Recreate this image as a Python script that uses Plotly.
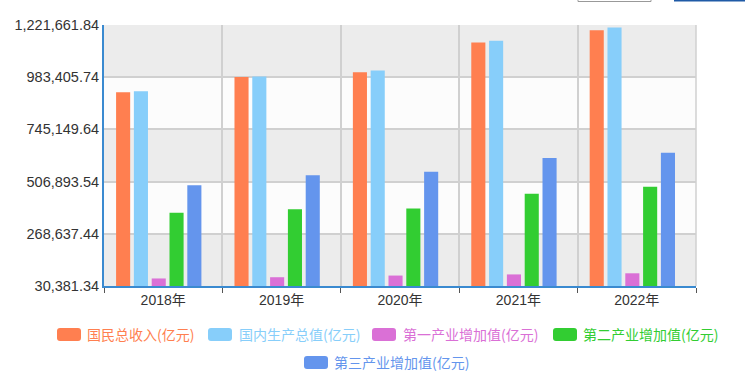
import plotly.graph_objects as go

years = ["2018年", "2019年", "2020年", "2021年", "2022年"]
series_names = ["国民总收入(亿元)", "国内生产总值(亿元)", "第一产业增加值(亿元)", "第二产业增加值(亿元)", "第三产业增加值(亿元)"]
gni = [915243.5, 983751.2, 1005451.3, 1141230.8, 1197250.4]
gdp = [919281.1, 986515.2, 1013567.0, 1149237.0, 1210207.2]
primary = [64745.2, 70473.6, 78030.9, 83216.5, 88345.1]
secondary = [364835.2, 380670.6, 383562.4, 451544.1, 483164.5]
tertiary = [489700.8, 535371.0, 551973.7, 614476.4, 638697.6]
ytick_vals = [30381.34, 268637.44, 506893.54, 745149.64, 983405.74, 1221661.84]
ytick_text = ["30,381.34", "268,637.44", "506,893.54", "745,149.64", "983,405.74", "1,221,661.84"]

colors = ["#ff7f50", "#87cefa", "#da70d6", "#32cd32", "#6495ed"]
all_series = [gni, gdp, primary, secondary, tertiary]

W, H = 750, 383
L, R, T, B = 104, 54, 25, 97
pw, ph = W - L - R, H - T - B

# legend layout in pixels: icon left edge, row centre y, text start x
legend_icon_left = [57, 208, 372, 553, 304]
legend_row_y = [334.5, 334.5, 334.5, 334.5, 362.5]
legend_text_x = [87, 239, 403, 583, 334]
legend_keys = ["legend", "legend2", "legend3", "legend4", "legend5"]

fig = go.Figure()
slot = 0.1504
bw = 0.119
start = -0.398
for i, (name, vals, c) in enumerate(zip(series_names, all_series, colors)):
    fig.add_trace(go.Bar(
        x=years, y=vals,
        name=f"<span style='color:{c}'>{name}</span>",
        marker=dict(color=c, line=dict(width=0)),
        width=bw, offset=start + i * slot,
        legend=legend_keys[i],
        hovertemplate="%{x}<br>" + name + ": %{y:,.1f}<extra></extra>",
    ))

def px_x(p):
    return (p - L) / pw

def px_y(p):
    return (H - B - p) / ph

shapes = []
for k in range(len(ytick_vals) - 1):
    fill = "#ececec" if k % 2 == 0 else "#fcfcfc"
    shapes.append(dict(type="rect", xref="paper", yref="y", x0=0, x1=1,
                       y0=ytick_vals[k], y1=ytick_vals[k + 1],
                       fillcolor=fill, line=dict(width=0), layer="below"))
shapes.append(dict(type="line", xref="paper", yref="paper", x0=1, x1=1, y0=0, y1=1,
                   line=dict(color="#d0d0d0", width=1.5), layer="below"))

shapes.append(dict(type="rect", xref="paper", yref="paper",
                   x0=px_x(578), x1=px_x(651), y0=px_y(1.5), y1=px_y(-10),
                   line=dict(color="#999999", width=1), fillcolor="rgba(0,0,0,0)"))
shapes.append(dict(type="rect", xref="paper", yref="paper",
                   x0=px_x(674), x1=px_x(745), y0=px_y(1.5), y1=px_y(-10),
                   line=dict(width=0), fillcolor="#1f5aa6"))

def rounded_rect_path(x0, y0, w, h, r):
    x1, y1 = x0 + w, y0 + h
    pts = [
        ("M", x0 + r, y0), ("L", x1 - r, y0), ("Q", x1, y0, x1, y0 + r),
        ("L", x1, y1 - r), ("Q", x1, y1, x1 - r, y1), ("L", x0 + r, y1),
        ("Q", x0, y1, x0, y1 - r), ("L", x0, y0 + r), ("Q", x0, y0, x0 + r, y0),
    ]
    out = []
    for p in pts:
        cmd = p[0]
        coords = p[1:]
        s = []
        for j in range(0, len(coords), 2):
            s.append(f"{px_x(coords[j]):.5f},{px_y(coords[j + 1]):.5f}")
        out.append(cmd + " ".join(s))
    return " ".join(out) + " Z"

# larger rounded legend swatches
for xl, yc, c in zip(legend_icon_left, legend_row_y, colors):
    shapes.append(dict(type="path", xref="paper", yref="paper",
                       path=rounded_rect_path(xl, yc - 6.5, 24, 13, 3),
                       fillcolor=c, line=dict(width=0)))

font_family = "Liberation Sans, Arial, Noto Sans CJK SC, sans-serif"

layout_legends = {}
for key, tx, cy in zip(legend_keys, legend_text_x, legend_row_y):
    layout_legends[key] = dict(
        orientation="h", xref="container", yref="container",
        x=(tx - 40) / W, xanchor="left", y=1 - cy / H, yanchor="middle",
        font=dict(size=14, family="Noto Sans CJK SC, sans-serif"),
        bgcolor="rgba(0,0,0,0)", borderwidth=0,
    )

fig.update_layout(
    width=W, height=H,
    margin=dict(l=L, r=R, t=T, b=B, autoexpand=False),
    paper_bgcolor="white", plot_bgcolor="rgba(0,0,0,0)",
    barmode="overlay",
    font=dict(family=font_family, size=13, color="#333333"),
    shapes=shapes,
    showlegend=True,
    **layout_legends,
)

fig.update_xaxes(
    type="category", tickson="boundaries", showgrid=True, gridcolor="#d0d0d0", gridwidth=1.5,
    showline=True, linecolor="#3a8ad0", linewidth=2,
    ticks="outside", ticklen=5, tickcolor="#555555", tickwidth=1,
    tickfont=dict(size=14, family="Liberation Sans, Noto Sans CJK SC, sans-serif", color="#333333"),
    range=[-0.5, 4.5], automargin=False,
)
fig.update_yaxes(
    range=[ytick_vals[0], ytick_vals[-1]],
    tickmode="array", tickvals=ytick_vals, ticktext=ytick_text,
    showgrid=True, gridcolor="#d0d0d0", gridwidth=1.5,
    showline=True, linecolor="#3a8ad0", linewidth=2,
    ticks="", zeroline=False, automargin=False,
    tickfont=dict(size=14.5, family=font_family, color="#333333"),
)

fig.write_html("out.html", config={"displayModeBar": False},
               post_script="document.body.style.margin='0';document.body.style.overflow='hidden';")
